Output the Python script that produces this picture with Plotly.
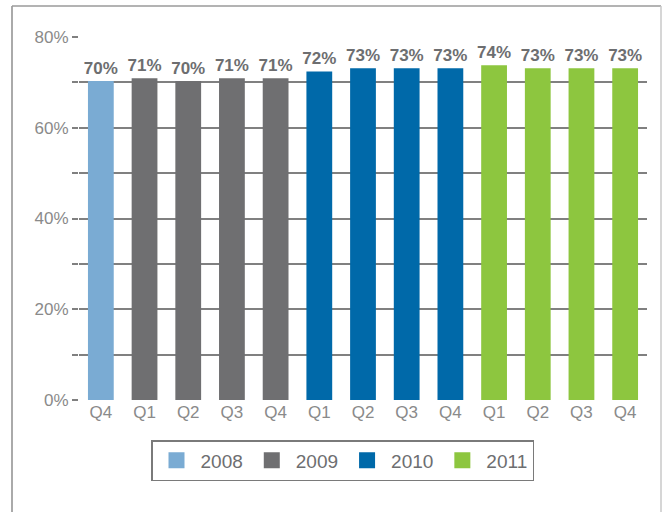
import plotly.graph_objects as go

quarters = ["Q4", "Q1", "Q2", "Q3", "Q4", "Q1", "Q2", "Q3", "Q4", "Q1", "Q2", "Q3", "Q4"]
years = ["2008", "2009", "2009", "2009", "2009", "2010", "2010", "2010", "2010", "2011", "2011", "2011", "2011"]
values = [70.3, 70.9, 70.3, 70.9, 70.9, 72.4, 73.1, 73.1, 73.1, 73.8, 73.1, 73.1, 73.1]
labels = ["70%", "71%", "70%", "71%", "71%", "72%", "73%", "73%", "73%", "74%", "73%", "73%", "73%"]
year_names = ["2008", "2009", "2010", "2011"]
year_colors = ["#7aabd3", "#6f6f71", "#0069a9", "#8dc63f"]

W, H = 665, 512
L, R, T, B = 79, 18, 37, 112
pw, ph = W - L - R, H - T - B

fig = go.Figure()
for yname, col in zip(year_names, year_colors):
    idx = [i for i, y in enumerate(years) if y == yname]
    fig.add_trace(go.Bar(
        x=idx, y=[values[i] for i in idx], text=[labels[i] for i in idx],
        textposition="outside", cliponaxis=False, constraintext="none",
        textfont=dict(family="Liberation Sans", size=17, color="#6d6e70", weight="bold"),
        marker=dict(color=col, line=dict(width=0)), width=0.59,
        showlegend=False, hoverinfo="skip"))
    fig.add_trace(go.Scatter(
        x=[None], y=[None], mode="markers", name=yname,
        marker=dict(symbol="square", size=20, color=col)))

def px(x):
    return (x - L) / pw

def py(y):
    return (H - B - y) / ph

# outer frame: left/top darker, right lighter
fig.add_shape(type="line", xref="paper", yref="paper",
              x0=px(12), x1=px(12), y0=py(530), y1=py(6),
              line=dict(color="#8e8e8e", width=1.5), layer="below")
fig.add_shape(type="line", xref="paper", yref="paper",
              x0=px(12), x1=px(661), y0=py(6), y1=py(6),
              line=dict(color="#9a9a9a", width=1.5), layer="below")
fig.add_shape(type="line", xref="paper", yref="paper",
              x0=px(661), x1=px(661), y0=py(530), y1=py(6),
              line=dict(color="#c8c8c8", width=1.5), layer="below")

fig.update_layout(
    width=W, height=H, margin=dict(l=L, r=R, t=T, b=B),
    paper_bgcolor="white", plot_bgcolor="white",
    barmode="overlay",
    font=dict(family="Liberation Sans", color="#8a8a8a"),
    xaxis=dict(range=[-0.5, 12.5], tickvals=list(range(13)), ticktext=quarters,
               showgrid=False, zeroline=False, showline=False, ticks="",
               tickfont=dict(size=17, color="#8a8a8a")),
    yaxis=dict(range=[0, 80], dtick=20, ticksuffix="%", showgrid=True,
               gridcolor="#808080", gridwidth=1.5, zeroline=False,
               ticks="outside", ticklen=6, tickcolor="#808080", tickwidth=1.5,
               tickfont=dict(size=17, color="#8a8a8a"),
               minor=dict(dtick=10, showgrid=True, gridcolor="#808080", gridwidth=1.5,
                          ticks="outside", ticklen=6, tickcolor="#808080", tickwidth=1.5)),
    legend=dict(orientation="h", x=px(342.5), xanchor="center", y=py(440), yanchor="top",
                bordercolor="#7a7a7a", borderwidth=1.5, font=dict(size=19, color="#6d6e70"),
                itemsizing="trace", tracegroupgap=0, itemwidth=38),
    showlegend=True,
)

fig.write_html("out.html", config={"displayModeBar": False},
               post_script="document.body.style.margin='0px';")
